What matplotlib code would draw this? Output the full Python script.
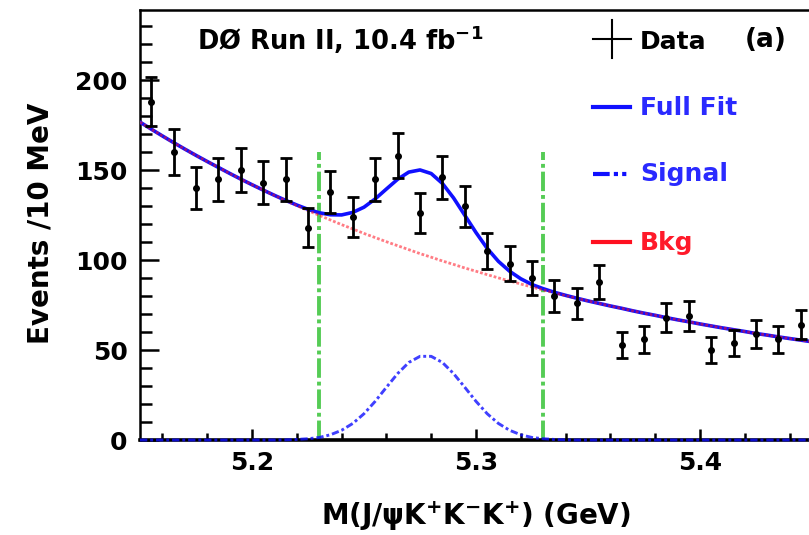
import matplotlib
matplotlib.use("Agg")
import matplotlib.pyplot as plt
from matplotlib.lines import Line2D
import numpy as np

# ---- data ----
bin_centers = [5.155, 5.165, 5.175, 5.185, 5.195, 5.205, 5.215, 5.225, 5.235, 5.245,
               5.255, 5.265, 5.275, 5.285, 5.295, 5.305, 5.315, 5.325, 5.335, 5.345,
               5.355, 5.365, 5.375, 5.385, 5.395, 5.405, 5.415, 5.425, 5.435, 5.445]
counts = [188, 160, 140, 145, 150, 143, 145, 118, 138, 124,
          145, 158, 126, 146, 130, 105, 98, 90, 80, 76,
          88, 53, 56, 68, 69, 50, 54, 59, 56, 64]
count_err = [13.7, 12.6, 11.8, 12.0, 12.2, 12.0, 12.0, 10.9, 11.7, 11.1,
             12.0, 12.6, 11.2, 12.1, 11.4, 10.2, 9.9, 9.5, 8.9, 8.7,
             9.4, 7.3, 7.5, 8.2, 8.3, 7.1, 7.3, 7.7, 7.5, 8.0]

curve_x = [5.150, 5.155, 5.160, 5.165, 5.170, 5.175, 5.180, 5.185, 5.190, 5.195,
           5.200, 5.205, 5.210, 5.215, 5.220, 5.225, 5.230, 5.235, 5.240, 5.245,
           5.250, 5.255, 5.260, 5.265, 5.270, 5.275, 5.280, 5.285, 5.290, 5.295,
           5.300, 5.305, 5.310, 5.315, 5.320, 5.325, 5.330, 5.335, 5.340, 5.345,
           5.350, 5.355, 5.360, 5.365, 5.370, 5.375, 5.380, 5.385, 5.390, 5.395,
           5.400, 5.405, 5.410, 5.415, 5.420, 5.425, 5.430, 5.435, 5.440, 5.445, 5.450]
bkg_curve = [176.7, 172.8, 169.0, 165.3, 161.7, 158.2, 154.8, 151.5, 148.2, 145.0,
             141.9, 138.9, 136.0, 133.1, 130.3, 127.5, 124.9, 122.3, 119.7, 117.3,
             114.8, 112.5, 110.2, 108.0, 105.8, 103.6, 101.6, 99.5, 97.6, 95.6,
             93.8, 91.9, 90.1, 88.4, 86.7, 85.0, 83.4, 81.8, 80.3, 78.8,
             77.3, 75.9, 74.5, 73.2, 71.8, 70.5, 69.3, 68.0, 66.8, 65.7,
             64.5, 63.4, 62.3, 61.3, 60.3, 59.2, 58.3, 57.3, 56.4, 55.5, 54.6]
sig_curve = [0.0, 0.0, 0.0, 0.0, 0.0, 0.0, 0.0, 0.0, 0.0, 0.0,
             0.0, 0.0, 0.0, 0.1, 0.3, 0.7, 1.4, 2.9, 5.4, 9.2,
             14.6, 21.5, 29.3, 36.9, 43.1, 46.5, 46.5, 43.1, 36.9, 29.3,
             21.5, 14.6, 9.2, 5.4, 2.9, 1.4, 0.7, 0.3, 0.1, 0.0,
             0.0, 0.0, 0.0, 0.0, 0.0, 0.0, 0.0, 0.0, 0.0, 0.0,
             0.0, 0.0, 0.0, 0.0, 0.0, 0.0, 0.0, 0.0, 0.0, 0.0, 0.0]
window_edges = [5.23, 5.33]
window_top = 160

xticks = [5.2, 5.3, 5.4]
xticklabels = ["5.2", "5.3", "5.4"]
yticks = [0, 50, 100, 150, 200]
yticklabels = ["0", "50", "100", "150", "200"]

# ---- style ----
plt.rcParams['font.family'] = ['DejaVu Sans']
plt.rcParams['font.weight'] = 'bold'
plt.rcParams['mathtext.fontset'] = 'custom'
plt.rcParams['mathtext.rm'] = 'DejaVu Sans:bold'
plt.rcParams['mathtext.it'] = 'DejaVu Sans:bold'
plt.rcParams['mathtext.bf'] = 'DejaVu Sans:bold'
plt.rcParams['mathtext.sf'] = 'DejaVu Sans:bold'

W, H = 809, 535
fig = plt.figure(figsize=(W/100, H/100), dpi=100)
ax = fig.add_axes([140/W, (H-440)/H, (812-140)/W, (440-10)/H])

full_curve = np.array(bkg_curve) + np.array(sig_curve)

BLUE = '#1010ff'
RED = '#ff1020'
GREEN = '#55cc55'

ax.plot(curve_x, full_curve, color=BLUE, lw=2.6, solid_capstyle='round', zorder=3)
ax.plot(curve_x, bkg_curve, color=RED, lw=2.0, alpha=0.55,
        linestyle=(0, (1.0, 0.7)), zorder=4)
ax.plot(curve_x, sig_curve, color=BLUE, lw=2.1, alpha=0.8,
        linestyle=(0, (2.5, 1, 1, 1)), zorder=3, clip_on=False)

for xe in window_edges:
    ax.plot([xe, xe], [0, window_top], color=GREEN, lw=2.8,
            linestyle=(0, (5, 1, 1, 1)), zorder=2)

ax.errorbar(bin_centers, counts, yerr=count_err, fmt='o', color='black',
            ms=4, elinewidth=2.0, capsize=4, capthick=2.0, zorder=5)

ax.set_xlim(5.15, 5.45)
ax.set_ylim(0, 239)

ax.set_xticks(xticks)
ax.set_xticklabels(xticklabels)
ax.set_xticks(np.arange(5.16, 5.45, 0.02), minor=True)
ax.set_yticks(yticks)
ax.set_yticklabels(yticklabels)
ax.set_yticks(np.arange(0, 240, 10), minor=True)

ax.tick_params(axis='both', which='both', direction='in', top=False, right=False,
               width=1.8, labelsize=18)
ax.tick_params(axis='y', which='major', length=14, pad=9)
ax.tick_params(axis='y', which='minor', length=8.5)
ax.tick_params(axis='x', which='major', length=8, pad=8)
ax.tick_params(axis='x', which='minor', length=5)
for lab in ax.get_xticklabels() + ax.get_yticklabels():
    lab.set_fontweight('bold')

for s in ['left', 'top']:
    ax.spines[s].set_linewidth(1.8)
ax.spines['bottom'].set_linewidth(2.6)
ax.spines['right'].set_visible(False)

ax.set_xlabel(r"M(J/$\psi$K$^{+}$K$^{-}$K$^{+}$) (GeV)", fontsize=20,
              fontweight='bold', labelpad=17)
ax.set_ylabel("Events /10 MeV", fontsize=20, fontweight='bold')
ax.yaxis.set_label_coords(-(140-54)/672, 0.505)

# ---- texts / legend (figure pixel coords) ----
def fx(px):
    return px / W

def fy(py):
    return 1 - py / H

fig.text(fx(197), fy(40), r"DØ Run II, 10.4 fb$^{-1}$", fontsize=18.5,
         fontweight='bold', va='center', ha='left')
fig.text(fx(745), fy(40), "(a)", fontsize=19, fontweight='bold', va='center', ha='left')

# Data entry: cross
fig.add_artist(Line2D([fx(593), fx(631)], [fy(39), fy(39)], color='black', lw=1.5))
fig.add_artist(Line2D([fx(612), fx(612)], [fy(20), fy(58)], color='black', lw=1.5))
fig.text(fx(640), fy(42), "Data", fontsize=18, fontweight='bold', va='center', ha='left',
         color='black')

fig.add_artist(Line2D([fx(593), fx(630)], [fy(107), fy(107)], color=BLUE, lw=3))
fig.text(fx(640), fy(108), "Full Fit", fontsize=18, fontweight='bold', va='center',
         ha='left', color='#2a2aff')

fig.add_artist(Line2D([fx(593), fx(630)], [fy(174), fy(174)], color=BLUE, lw=3,
                      linestyle=(0, (4, 1, 1, 1, 1, 1))))
fig.text(fx(640), fy(174), "Signal", fontsize=18, fontweight='bold', va='center',
         ha='left', color='#2a2aff')

fig.add_artist(Line2D([fx(593), fx(630)], [fy(242), fy(242)], color=RED, lw=3))
fig.text(fx(640), fy(243), "Bkg", fontsize=18, fontweight='bold', va='center',
         ha='left', color='#ff1a2a')

fig.savefig("out.png", dpi=100)
